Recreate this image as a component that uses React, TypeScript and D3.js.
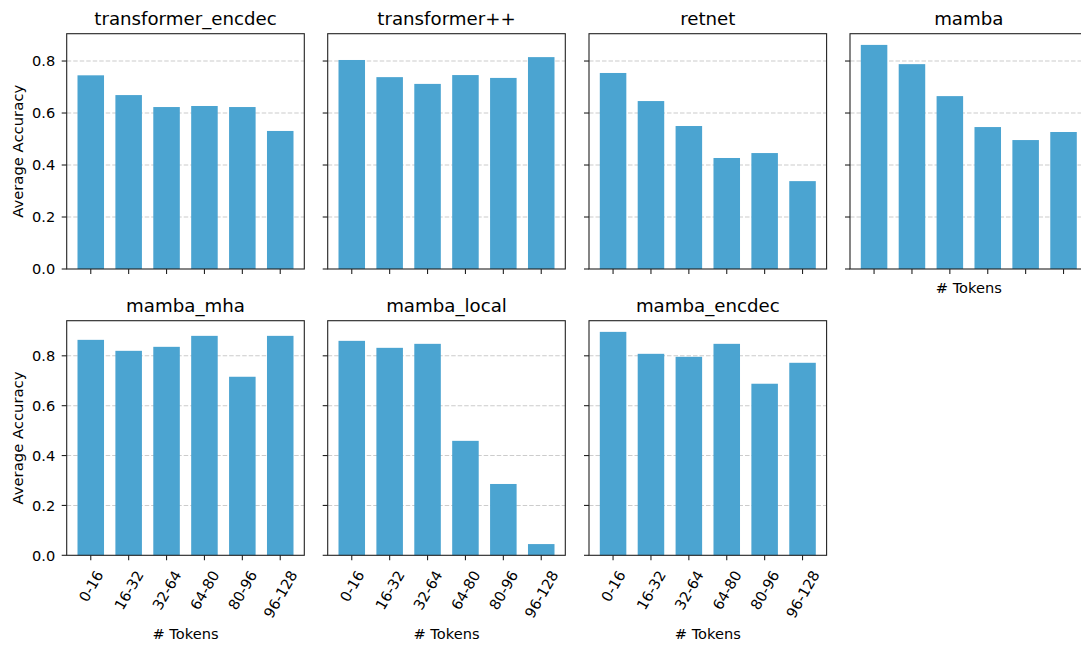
import React, { useEffect, useRef } from "react";
import * as d3 from "d3";

const bins = ["0-16", "16-32", "32-64", "64-80", "80-96", "96-128"];
const yTicks = [0, 0.2, 0.4, 0.6, 0.8];

const transformerEncdec = [0.745, 0.669, 0.623, 0.627, 0.623, 0.531];
const transformerPP = [0.804, 0.738, 0.712, 0.746, 0.735, 0.815];
const retnet = [0.754, 0.646, 0.55, 0.427, 0.446, 0.338];
const mamba = [0.862, 0.788, 0.665, 0.546, 0.496, 0.527];
const mambaMha = [0.864, 0.82, 0.836, 0.88, 0.716, 0.88];
const mambaLocal = [0.86, 0.832, 0.848, 0.459, 0.286, 0.045];
const mambaEncdec = [0.896, 0.808, 0.796, 0.848, 0.688, 0.772];

const panels = [
  { title: "transformer_encdec", values: transformerEncdec, row: 0, col: 0 },
  { title: "transformer++", values: transformerPP, row: 0, col: 1 },
  { title: "retnet", values: retnet, row: 0, col: 2 },
  { title: "mamba", values: mamba, row: 0, col: 3 },
  { title: "mamba_mha", values: mambaMha, row: 1, col: 0 },
  { title: "mamba_local", values: mambaLocal, row: 1, col: 1 },
  { title: "mamba_encdec", values: mambaEncdec, row: 1, col: 2 },
];

const W = 1081;
const H = 648;
const FONT = "DejaVu Sans";
const BAR = "#4ba4d1";

const App = () => {
  const ref = useRef<SVGSVGElement | null>(null);

  useEffect(() => {
    const colX = [66.7, 327.7, 589, 850];
    const pw = 237.6;
    const rowTop = [33.7, 320.7];
    const rowBottom = [269, 555.3];

    // shared y per row
    const rowMax = [0, 1].map(
      (r) => (d3.max(panels.filter((p) => p.row === r).flatMap((p) => p.values)) as number) * 1.05,
    );

    const svg = d3.select(ref.current);
    svg.selectAll("*").remove();
    svg.append("rect").attr("width", W).attr("height", H).attr("fill", "#fff");

    panels.forEach((p) => {
      const left = colX[p.col];
      const right = left + pw;
      const top = rowTop[p.row];
      const bottom = rowBottom[p.row];

      const x = d3.scaleBand().domain(bins).range([left, right]).paddingInner(0.3).paddingOuter(0.285);
      const y = d3.scaleLinear().domain([0, rowMax[p.row]]).range([bottom, top]);

      const g = svg.append("g");

      // grid
      g.selectAll("line.grid")
        .data(yTicks.filter((t) => t > 0))
        .join("line")
        .attr("x1", left)
        .attr("x2", right)
        .attr("y1", (d) => y(d))
        .attr("y2", (d) => y(d))
        .attr("stroke", "#cccccc")
        .attr("stroke-width", 1.1)
        .attr("stroke-dasharray", "4.5,2");

      // bars
      g.selectAll("rect.bar")
        .data(p.values)
        .join("rect")
        .attr("x", (_, i) => x(bins[i]) as number)
        .attr("width", x.bandwidth())
        .attr("y", (d) => y(d))
        .attr("height", (d) => bottom - y(d))
        .attr("fill", BAR);

      // frame
      g.append("rect")
        .attr("x", left)
        .attr("y", top)
        .attr("width", pw)
        .attr("height", bottom - top)
        .attr("fill", "none")
        .attr("stroke", "#222")
        .attr("stroke-width", 1.1);

      // y ticks
      g.selectAll("line.yt")
        .data(yTicks)
        .join("line")
        .attr("x1", left - 5)
        .attr("x2", left)
        .attr("y1", (d) => y(d))
        .attr("y2", (d) => y(d))
        .attr("stroke", "#222")
        .attr("stroke-width", 1.1);

      // x ticks
      g.selectAll("line.xt")
        .data(bins)
        .join("line")
        .attr("x1", (d) => (x(d) as number) + x.bandwidth() / 2)
        .attr("x2", (d) => (x(d) as number) + x.bandwidth() / 2)
        .attr("y1", bottom)
        .attr("y2", bottom + 5)
        .attr("stroke", "#222")
        .attr("stroke-width", 1.1);

      if (p.col === 0) {
        g.selectAll("text.yl")
          .data(yTicks)
          .join("text")
          .attr("x", left - 11.5)
          .attr("y", (d) => y(d))
          .attr("dy", "0.36em")
          .attr("text-anchor", "end")
          .attr("font-family", FONT)
          .attr("font-size", 14.6)
          .attr("fill", "#000")
          .text((d) => d3.format(".1f")(d));

        g.append("text")
          .attr("transform", `translate(23,${(top + bottom) / 2}) rotate(-90)`)
          .attr("text-anchor", "middle")
          .attr("font-family", FONT)
          .attr("font-size", 14.8)
          .attr("fill", "#000")
          .text("Average Accuracy");
      }

      // title
      g.append("text")
        .attr("x", (left + right) / 2)
        .attr("y", top - 9)
        .attr("text-anchor", "middle")
        .attr("font-family", FONT)
        .attr("font-size", 18.2)
        .attr("fill", "#000")
        .text(p.title);

      if (p.row === 1) {
        // rotated tick labels, bbox centred under the tick
        bins.forEach((b) => {
          const cx = (x(b) as number) + x.bandwidth() / 2;
          const t = g
            .append("text")
            .attr("text-anchor", "middle")
            .attr("dominant-baseline", "central")
            .attr("font-family", FONT)
            .attr("font-size", 14.6)
            .attr("fill", "#000")
            .text(b);
          const w = (t.node() as SVGTextElement).getComputedTextLength();
          const h = 14.6 * 1.05;
          const a = (60 * Math.PI) / 180;
          const bh = w * Math.sin(a) + h * Math.cos(a);
          const cy = bottom + 12.5 + bh / 2;
          t.attr("transform", `translate(${cx},${cy}) rotate(-60)`);
        });
        g.append("text")
          .attr("x", (left + right) / 2)
          .attr("y", 639)
          .attr("text-anchor", "middle")
          .attr("font-family", FONT)
          .attr("font-size", 14.6)
          .attr("fill", "#000")
          .text("# Tokens");
      } else if (p.col === 3) {
        g.append("text")
          .attr("x", (left + right) / 2)
          .attr("y", bottom + 24)
          .attr("text-anchor", "middle")
          .attr("font-family", FONT)
          .attr("font-size", 14.6)
          .attr("fill", "#000")
          .text("# Tokens");
      }
    });
  }, []);

  return (
    <svg
      ref={ref}
      width={W}
      height={H}
      style={{ position: "absolute", left: 0, top: 0, display: "block" }}
    />
  );
};

export default App;
